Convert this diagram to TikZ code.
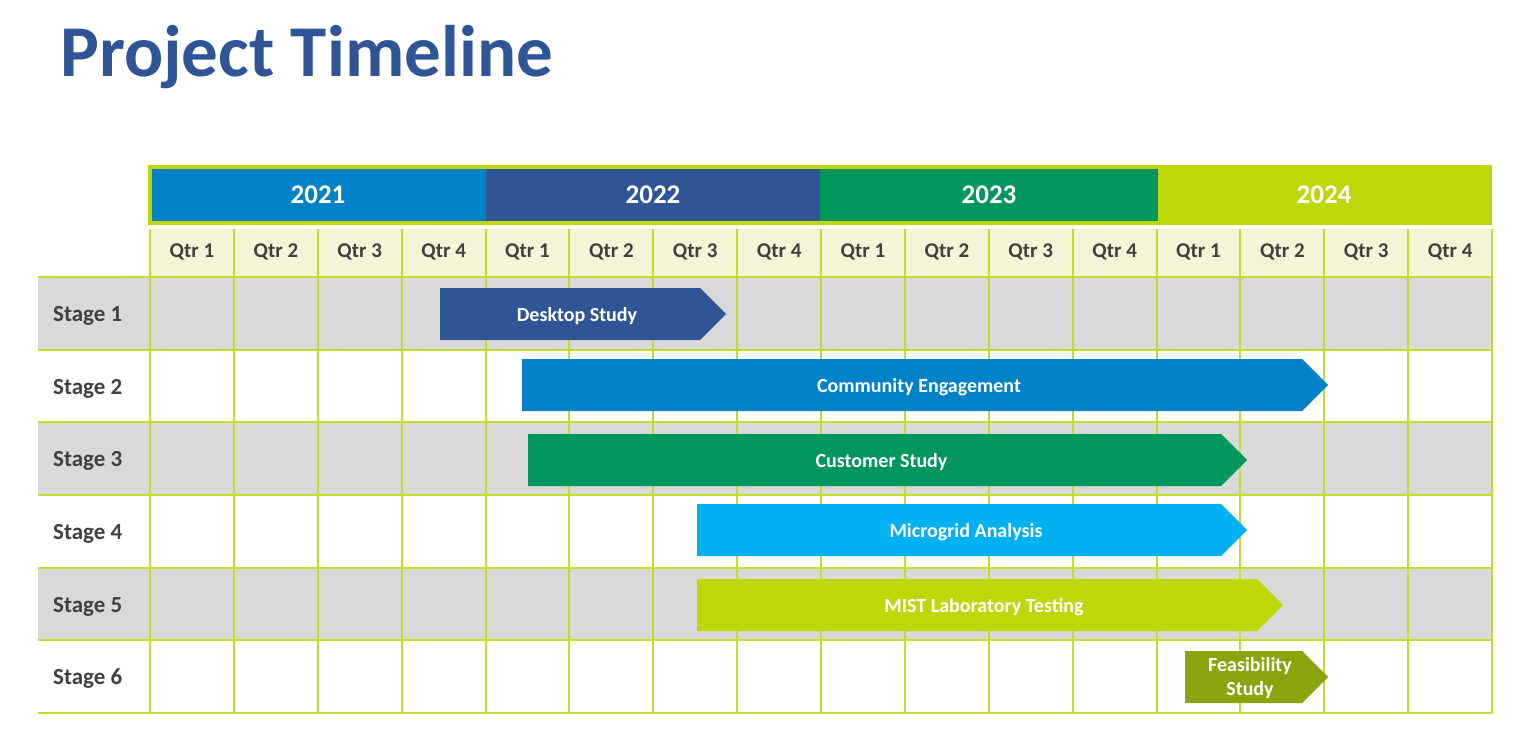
\documentclass[tikz,border=0pt]{standalone}
\usepackage{fontspec}
\setmainfont{Carlito}
\usepackage{tikz}
\usetikzlibrary{positioning,calc}
\usepackage{xcolor}
\definecolor{titleblue}{RGB}{47,85,151}
\definecolor{yrA}{RGB}{0,130,200}
\definecolor{yrB}{RGB}{47,85,151}
\definecolor{yrC}{RGB}{0,150,94}
\definecolor{lime}{RGB}{189,215,8}
\definecolor{gridline}{RGB}{196,220,40}
\definecolor{qfill}{RGB}{243,245,214}
\definecolor{rowgray}{RGB}{217,217,217}
\definecolor{cyanbar}{RGB}{0,176,240}
\definecolor{olive}{RGB}{140,164,12}
\definecolor{ink}{RGB}{64,64,64}

\begin{document}
\begin{tikzpicture}[x=1pt, y=-1pt,
  yr/.style={font=\fontsize{27}{29}\selectfont\bfseries, text=white, inner sep=0pt, anchor=base},
  qt/.style={font=\fontsize{21}{23}\selectfont\bfseries, text=ink, inner sep=0pt, anchor=base},
  sg/.style={font=\fontsize{23}{25}\selectfont\bfseries, text=ink, anchor=base west, inner sep=0pt},
  br/.style={font=\fontsize{20}{24}\selectfont\bfseries, text=white, align=center, inner sep=0pt},
  gl/.style={draw=gridline, line width=2pt}
]
\useasboundingbox[fill=white] (0,0) rectangle (1520,745);

% title
\node[anchor=base west, inner sep=0pt, text=titleblue,
  font=\fontsize{73}{80}\selectfont\bfseries] (title) at (60,76) {Project Timeline};

% years
\fill[lime] (148,165) rectangle (1492,225);
\fill[yrA] (152,169) rectangle (486,221);
\fill[yrB] (486,169) rectangle (820,221);
\fill[yrC] (820,169) rectangle (1158,221);
\node[yr] (y21) at (318,203) {2021};
\node[yr] (y22) at (653,203) {2022};
\node[yr] (y23) at (989,203) {2023};
\node[yr] (y24) at (1324,203) {2024};

% quarters and stage rows
\fill[qfill] (150,229) rectangle (1492,277);
\foreach \i in {1,3,5}
  \fill[rowgray] (38,{277+(\i-1)*72.67}) rectangle (1492,{277+\i*72.67});
\foreach \k in {0,...,6}
  \draw[gl] (38,{277+\k*72.67}) -- (1492,{277+\k*72.67});
\foreach \j in {0,...,16}
  \draw[gl] ({150+\j*83.875},229) -- ({150+\j*83.875},713);
\foreach \j in {0,...,15} {
  \pgfmathtruncatemacro{\q}{mod(\j,4)+1}
  \node[qt] (q\j) at ({192+\j*83.875},257) {Qtr \q};
}
\foreach \i in {1,...,6}
  \node[sg] (s\i) at (53,{277+(\i-0.5)*72.67+8}) {Stage \i};

% bars
\foreach \a/\b/\y/\c/\n/\t in {
  440/726/314/yrB/ds/Desktop Study,
  522/1328/385/yrA/ce/Community Engagement,
  528/1247/460/yrC/cs/Customer Study,
  697/1247/530/cyanbar/ma/Microgrid Analysis,
  697/1283/605/lime/lt/MIST Laboratory Testing} {
  \fill[\c] (\a,\y-26) -- (\b-26,\y-26) -- (\b,\y) -- (\b-26,\y+26) -- (\a,\y+26) -- cycle;
  \node[br, anchor=base] (\n) at ({(\a+\b)/2-6},\y+7) {\t};
}
\fill[olive] (1185,651) -- (1302,651) -- (1328,677) -- (1302,703) -- (1185,703) -- cycle;
\node[br] (fs) at (1250,678) {Feasibility\\Study};
\end{tikzpicture}
\end{document}
